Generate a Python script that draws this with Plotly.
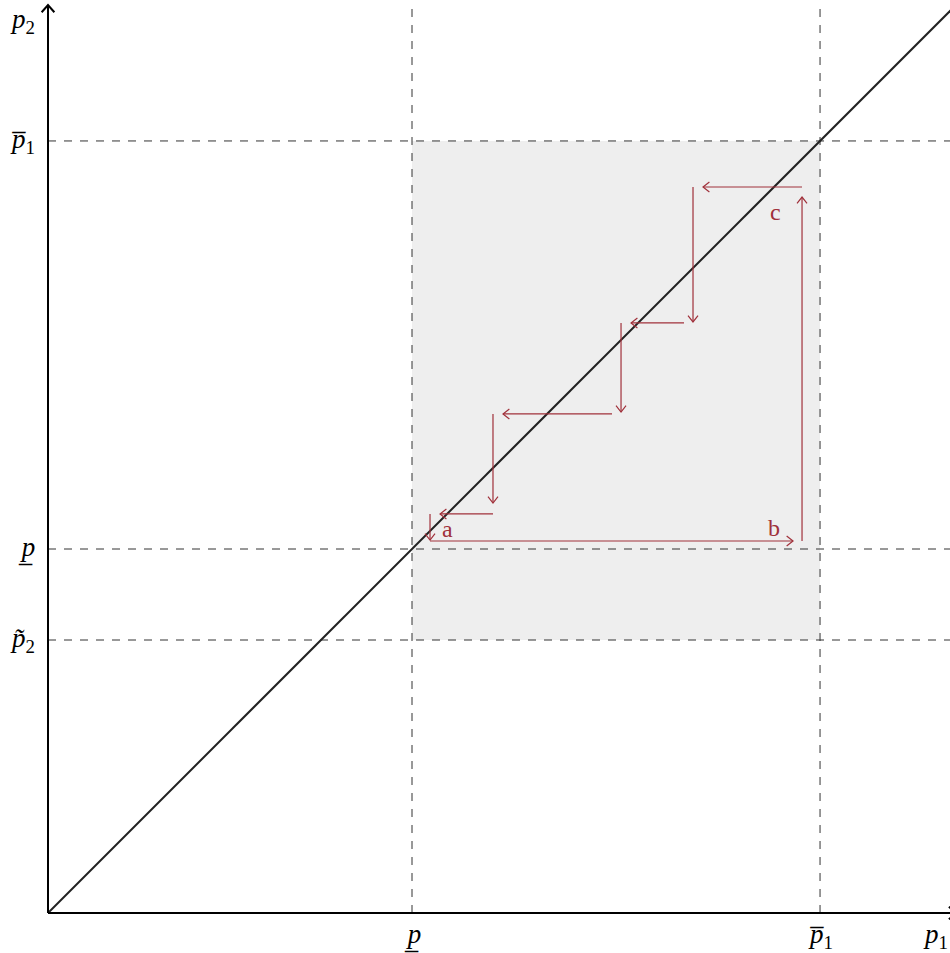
import plotly.graph_objects as go

# ---- data (units: 1 = 91 px) ----
P_LOW = 4.0        # underline p
P1_BAR = 8.484     # overline p_1
P2_TILDE = 3.0     # tilde p_2
X_MAX = 9.98       # x-axis arrow tip (just past the right edge)
Y_MAX = 9.978      # y-axis arrow tip

# cobweb arrows: start -> end
arrow_x0 = [8.286, 8.286, 7.088, 6.989, 6.297, 6.198, 4.890, 4.890, 4.198, 4.198]
arrow_y0 = [4.088, 7.978, 7.978, 6.484, 6.484, 5.484, 5.484, 4.385, 4.385, 4.088]
arrow_x1 = [8.286, 7.198, 7.088, 6.407, 6.297, 5.000, 4.890, 4.308, 4.198, 8.187]
arrow_y1 = [7.868, 7.978, 6.495, 6.484, 5.505, 5.484, 4.505, 4.385, 4.098, 4.088]

point_labels = ["a", "b", "c"]
point_x = [4.385, 7.978, 7.989]
point_y = [4.220, 4.231, 7.703]

RED = "#a0303a"
GRAY_DASH = "#333333"

def head(x0, y0, x1, y1, L, W):
    dx, dy = x1 - x0, y1 - y0
    n = (dx * dx + dy * dy) ** 0.5
    ux, uy = dx / n, dy / n
    px, py = -uy, ux
    bx, by = x1 - L * ux, y1 - L * uy
    return ([bx + W * px, x1, bx - W * px, None], [by + W * py, y1, by - W * py, None])

fig = go.Figure()

# shaded region
fig.add_shape(type="rect", x0=P_LOW, x1=P1_BAR, y0=P2_TILDE, y1=P1_BAR,
              fillcolor="#eeeeee", line_width=0, layer="below")

# dashed guide lines
dx, dy = [], []
for yv in [P1_BAR, P_LOW, P2_TILDE]:
    dx += [0, X_MAX, None]; dy += [yv, yv, None]
for xv in [P_LOW, P1_BAR]:
    dx += [xv, xv, None]; dy += [0, Y_MAX, None]
fig.add_trace(go.Scatter(x=dx, y=dy, mode="lines",
                         line=dict(color=GRAY_DASH, width=1, dash="8px,8px"),
                         hoverinfo="skip", showlegend=False))

# 45-degree line
fig.add_trace(go.Scatter(x=[0, X_MAX], y=[0, X_MAX], mode="lines",
                         line=dict(color="#222222", width=2),
                         hoverinfo="skip", showlegend=False))

# cobweb arrows
ax_, ay_ = [], []
for x0, y0, x1, y1 in zip(arrow_x0, arrow_y0, arrow_x1, arrow_y1):
    ax_ += [x0, x1, None]; ay_ += [y0, y1, None]
    hx, hy = head(x0, y0, x1, y1, 0.07, 0.055)
    ax_ += hx; ay_ += hy
fig.add_trace(go.Scatter(x=ax_, y=ay_, mode="lines",
                         line=dict(color=RED, width=1.2),
                         hoverinfo="skip", showlegend=False))

# axes with arrow heads
axx, axy = [0, X_MAX, None, 0, 0, None], [0, 0, None, 0, Y_MAX, None]
hx, hy = head(0, 0, X_MAX, 0, 0.08, 0.07); axx += hx; axy += hy
hx, hy = head(0, 0, 0, Y_MAX, 0.08, 0.07); axx += hx; axy += hy
fig.add_trace(go.Scatter(x=axx, y=axy, mode="lines",
                         line=dict(color="black", width=2),
                         hoverinfo="skip", showlegend=False))

# point labels
for t, x, y in zip(point_labels, point_x, point_y):
    fig.add_annotation(x=x, y=y, text=t, showarrow=False,
                       font=dict(family="Liberation Serif", size=24, color=RED))

FONT = dict(family="Liberation Serif", size=27, color="black")
# y-axis labels
ylabels = ["<i>p\u0305</i><sub>1</sub>", "<i>p\u0332</i>", "<i>p\u0303</i><sub>2</sub>"]
yvals = [P1_BAR, P_LOW, P2_TILDE]
for t, y in zip(ylabels, yvals):
    fig.add_annotation(xref="paper", x=-0.003, y=y, text=t, showarrow=False,
                       xanchor="right", yanchor="middle", font=FONT)
fig.add_annotation(xref="paper", yref="paper", x=-0.003, y=0.977, text="<i>p</i><sub>2</sub>",
                   showarrow=False, xanchor="right", yanchor="middle", font=FONT)
# x-axis labels
xlabels = ["<i>p\u0332</i>", "<i>p\u0305</i><sub>1</sub>"]
xvals = [P_LOW, P1_BAR]
for t, x in zip(xlabels, xvals):
    fig.add_annotation(yref="paper", x=x, y=0.004, text=t, showarrow=False,
                       xanchor="center", yanchor="top", font=FONT)
fig.add_annotation(xref="paper", yref="paper", x=0.984, y=0.004, text="<i>p</i><sub>1</sub>",
                   showarrow=False, xanchor="center", yanchor="top", font=FONT)

fig.update_layout(
    width=950, height=953,
    margin=dict(l=40, r=0, t=0, b=32),
    paper_bgcolor="white", plot_bgcolor="white",
    xaxis=dict(range=[-8 / 91, 902 / 91], visible=False, fixedrange=True),
    yaxis=dict(range=[-8 / 91, 913 / 91], visible=False, fixedrange=True),
    showlegend=False,
)
fig.write_html("out.html", config={"displayModeBar": False},
               post_script="document.body.style.margin='0';document.body.style.overflow='hidden';")
